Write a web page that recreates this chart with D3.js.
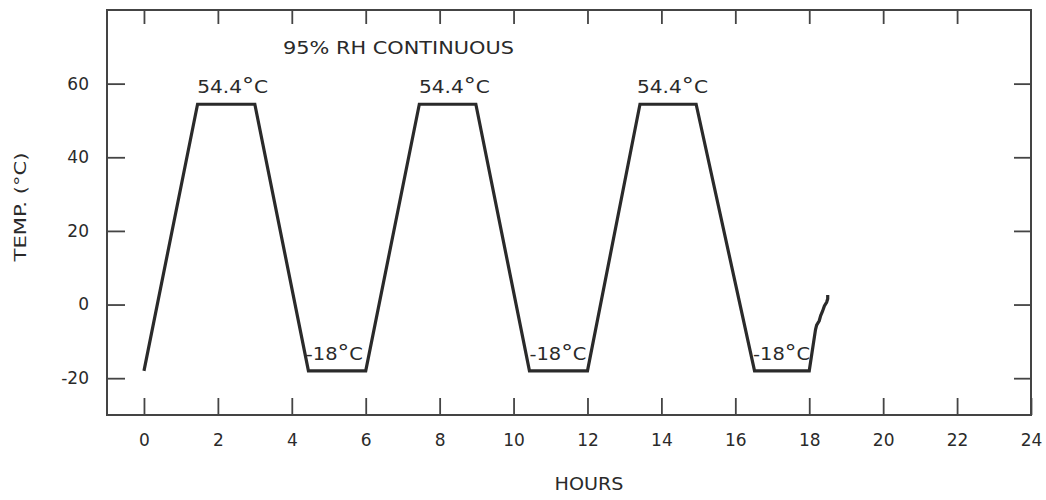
<!DOCTYPE html>
<html>
<head>
<meta charset="utf-8">
<script src="https://cdn.jsdelivr.net/npm/d3@7/dist/d3.min.js"></script>
<style>
  html, body { margin: 0; padding: 0; background: #fff; }
  svg { display: block; }
  text { font-family: "DejaVu Sans", sans-serif; fill: #2a2a2a; }
</style>
</head>
<body>
<svg id="chart" width="1046" height="500"></svg>
<script>
// Temperature cycle, 95% RH continuous
const PEAK = 54.4;
const TROUGH = -18;

const hours = [0, 1.45, 3.0, 4.45, 6.0, 7.45, 8.98, 10.43, 12.0, 13.42, 14.94, 16.52, 18.0,
               18.17, 18.2, 18.27, 18.31, 18.36, 18.41, 18.47, 18.5, 18.5];
const temps = [TROUGH, PEAK, PEAK, TROUGH, TROUGH, PEAK, PEAK, TROUGH, TROUGH, PEAK, PEAK, TROUGH, TROUGH,
               -6.8, -5.6, -4.4, -3.0, -1.8, -0.4, 0.6, 1.6, 2.6];

const xTicks = [0, 2, 4, 6, 8, 10, 12, 14, 16, 18, 20, 22, 24];
const yTicks = [-20, 0, 20, 40, 60];

const peakLabelHours = [2.4, 8.4, 14.3];
const troughLabelHours = [5.15, 11.2, 17.25];

const svg = d3.select("#chart");
const frame = { left: 107, right: 1031, top: 10, bottom: 415 };

const x = d3.scaleLinear().domain([-1, 24]).range([frame.left, frame.right]);
const y = d3.scaleLinear().domain([-30, 80]).range([frame.bottom, frame.top]);

const axisColor = "#444";
const plain = d => String(d);

function styleAxis(g) {
  g.select(".domain").remove();
  g.attr("font-size", null).attr("font-family", null);
  g.selectAll(".tick line").attr("stroke", axisColor).attr("stroke-width", 1.8);
  g.selectAll(".tick text")
    .attr("fill", "#2a2a2a")
    .style("font-family", "DejaVu Sans, sans-serif")
    .style("font-size", "17px");
}

// bottom axis with inward ticks
svg.append("g")
  .attr("transform", `translate(0,${frame.bottom})`)
  .call(d3.axisBottom(x).tickValues(xTicks).tickSize(-17).tickPadding(19).tickFormat(plain))
  .call(styleAxis);

// left axis
svg.append("g")
  .attr("transform", `translate(${frame.left},0)`)
  .call(d3.axisLeft(y).tickValues(yTicks).tickSize(-18).tickPadding(18).tickFormat(plain))
  .call(styleAxis);

// mirrored ticks on top and right, no labels
svg.append("g")
  .attr("transform", `translate(0,${frame.top})`)
  .call(d3.axisTop(x).tickValues(xTicks.filter(d => d < 24)).tickSize(-14).tickFormat(""))
  .call(styleAxis);

svg.append("g")
  .attr("transform", `translate(${frame.right},0)`)
  .call(d3.axisRight(y).tickValues(yTicks).tickSize(-17).tickFormat(""))
  .call(styleAxis);

// frame
svg.append("rect")
  .attr("x", frame.left).attr("y", frame.top)
  .attr("width", frame.right - frame.left).attr("height", frame.bottom - frame.top)
  .attr("fill", "none").attr("stroke", axisColor).attr("stroke-width", 2);

// temperature profile
const line = d3.line().x(d => x(d[0])).y(d => y(d[1]));
svg.append("path")
  .datum(hours.map((h, i) => [h, temps[i]]))
  .attr("d", line)
  .attr("fill", "none")
  .attr("stroke", "#2a2a2a")
  .attr("stroke-width", 3.2)
  .attr("stroke-linejoin", "miter");

// plateau labels
function degreeLabel(value, hx, fontSize, width) {
  const t = svg.append("text")
    .attr("x", x(hx))
    .attr("y", y(value) - 11)
    .attr("text-anchor", "middle")
    .style("font-size", fontSize + "px")
    .attr("textLength", width)
    .attr("lengthAdjust", "spacingAndGlyphs");
  t.append("tspan").text(value === PEAK ? "54.4" : "-18");
  t.append("tspan").text("°").style("font-size", (fontSize * 1.2) + "px");
  t.append("tspan").text("C");
}
peakLabelHours.forEach(h => degreeLabel(PEAK, h, 18, 71));
troughLabelHours.forEach(h => degreeLabel(TROUGH, h, 18, 57));

// annotation
svg.append("text")
  .attr("x", 283).attr("y", 54)
  .style("font-size", "18px")
  .attr("textLength", 231).attr("lengthAdjust", "spacingAndGlyphs")
  .text("95% RH CONTINUOUS");

// axis titles
svg.append("text")
  .attr("x", 589).attr("y", 490)
  .attr("text-anchor", "middle")
  .style("font-size", "18px")
  .attr("textLength", 69).attr("lengthAdjust", "spacingAndGlyphs")
  .text("HOURS");

svg.append("text")
  .attr("transform", "translate(26,207) rotate(-90)")
  .attr("text-anchor", "middle")
  .style("font-size", "16px")
  .attr("textLength", 109).attr("lengthAdjust", "spacingAndGlyphs")
  .text("TEMP. (°C)");
</script>
</body>
</html>
